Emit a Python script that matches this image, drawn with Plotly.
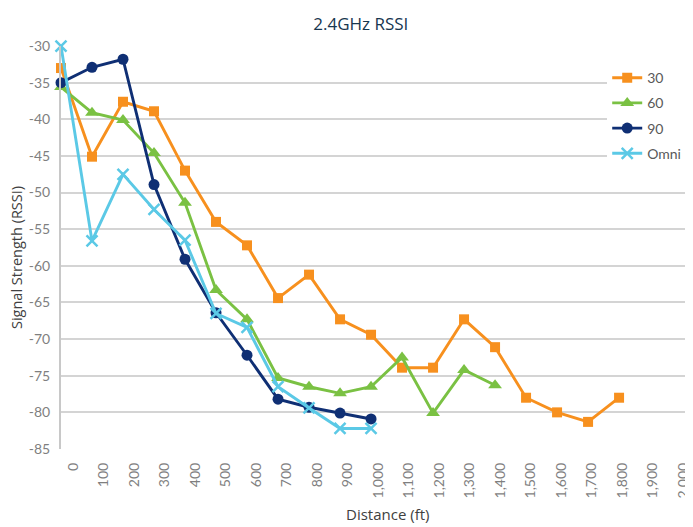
import plotly.graph_objects as go

distance = [0, 100, 200, 300, 400, 500, 600, 700, 800, 900, 1000,
            1100, 1200, 1300, 1400, 1500, 1600, 1700, 1800]

rssi_30 = [-33.0, -45.1, -37.6, -38.9, -47.0, -54.0, -57.2, -64.4, -61.2, -67.3,
           -69.4, -73.9, -73.9, -67.3, -71.1, -78.0, -80.0, -81.3, -78.0]
rssi_60 = [-35.6, -39.1, -40.1, -44.6, -51.4, -63.3, -67.3, -75.3, -76.5, -77.4,
           -76.5, -72.5, -80.1, -74.2, -76.3]
rssi_90 = [-35.0, -32.9, -31.8, -48.9, -59.1, -66.4, -72.2, -78.2, -79.3, -80.1, -80.9]
rssi_omni = [-30.0, -56.6, -47.5, -52.3, -56.5, -66.5, -68.4, -76.5, -79.4, -82.2, -82.2]

x_ticks = list(range(0, 2001, 100))
y_ticks = list(range(-85, -29, 5))
y_ticktext = [str(v) for v in y_ticks]

series = [
    ("30", rssi_30, "#F7901E", "square", 10, 0),
    ("60", rssi_60, "#7AC143", "triangle-up", 12, 0),
    ("90", rssi_90, "#0F2F74", "circle", 11, 0),
    ("Omni", rssi_omni, "#5BC9E6", "x-thin", 11, 2.5),
]

fig = go.Figure()
for name, vals, color, sym, size, lw in series:
    marker = dict(symbol=sym, size=size, color=color)
    if lw:
        marker["line"] = dict(width=lw, color=color)
    fig.add_trace(go.Scatter(
        x=distance[:len(vals)], y=vals, name=name, mode="lines+markers",
        line=dict(color=color, width=2.9), marker=marker,
        cliponaxis=False, legendgroup=name,
    ))

# helper axis carrying the distance tick labels
fig.add_trace(go.Scatter(x=[0], y=[None], xaxis="x2", showlegend=False,
                         hoverinfo="skip", mode="markers"))

font_main = "Lato, 'Open Sans', sans-serif"
font_title = "'Open Sans', Lato, sans-serif"
fig.update_layout(
    width=685, height=519,
    margin=dict(l=53, r=2, t=38, b=78),
    paper_bgcolor="white", plot_bgcolor="white",
    font=dict(family=font_main, size=13, color="#7f7f7f"),
    title=dict(text="2.4GHz RSSI", x=0.515, xanchor="center", y=0.969,
               yanchor="middle", font=dict(size=17, color="#17364F", family=font_title)),
    xaxis=dict(range=[0, 2032], showticklabels=False, showgrid=False,
               zeroline=False, showline=False, ticks="", automargin=False),
    xaxis2=dict(overlaying="x", anchor="y", side="bottom", range=[-39.3, 2025],
                tickvals=x_ticks, tickformat=",", tickangle=-90, showgrid=False,
                zeroline=False, showline=False, ticks="", ticklabelstandoff=10,
                automargin=False,
                tickfont=dict(size=14, color="#7f7f7f")),
    yaxis=dict(range=[-85, -29.99], tickvals=y_ticks, ticktext=y_ticktext,
               showgrid=True, gridcolor="#d4d4d4", gridwidth=2, zeroline=False,
               showline=True, linecolor="#c8c8c8", linewidth=2, ticks="",
               automargin=False,
               ticklabelstandoff=6, tickfont=dict(size=14, color="#7f7f7f")),
    legend=dict(x=0.867, y=0.96, xanchor="left", yanchor="top",
                bgcolor="white", font=dict(size=14, color="#595959"),
                tracegroupgap=4, itemwidth=30),
    showlegend=True,
    annotations=[
        dict(text="Distance (ft)", xref="paper", yref="paper", x=0.5175, y=-0.1613,
             xanchor="center", yanchor="middle", showarrow=False,
             font=dict(size=15, color="#404040", family=font_title)),
        dict(text="Signal Strength (RSSI)", xref="paper", yref="paper", x=-0.0698,
             y=0.474, xanchor="center", yanchor="middle", textangle=-90,
             showarrow=False, font=dict(size=14.5, color="#404040", family=font_title)),
    ],
)

fig.write_html("out.html")
